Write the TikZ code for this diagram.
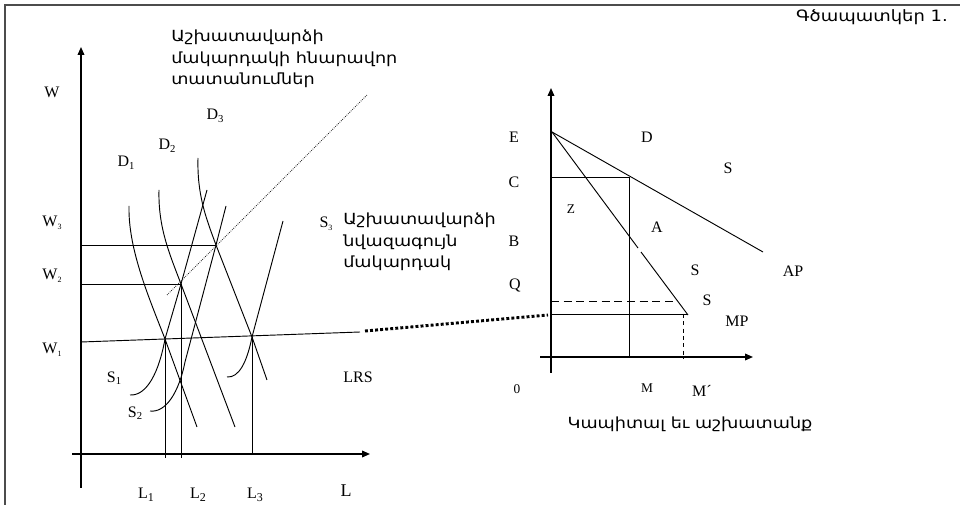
\documentclass[tikz,border=0pt]{standalone}
\usepackage{fontspec}
\setmainfont{Liberation Serif}
\newfontfamily\armw[FakeStretch=1.15]{DejaVu Sans}
\usetikzlibrary{arrows.meta}
\newcommand{\subx}[2]{\raisebox{-0.35ex}{\fontsize{#1}{#1}\selectfont #2}}
\begin{document}
\begin{tikzpicture}[x=0.75pt,y=-0.75pt,
  lbl/.style={inner sep=0pt,font=\fontsize{12}{14}\selectfont},
  smlbl/.style={inner sep=0pt,font=\fontsize{10}{12}\selectfont},
  biglbl/.style={inner sep=0pt,font=\fontsize{13.5}{15}\selectfont},
  armtxt/.style={inner sep=0pt,align=left,font=\armw\fontsize{11.5}{16}\selectfont},
  armtitle/.style={inner sep=0pt,font=\armw\fontsize{11.7}{13}\selectfont},
  axisline/.style={line width=1.1pt,-{Triangle[length=6pt,width=5pt]}},
  ln/.style={line width=0.7pt},
  frameline/.style={line width=1.1pt,draw=black!70},
  fine/.style={line width=0.55pt,dash pattern=on 0.6pt off 0.9pt,draw=black!85},
  bigdots/.style={line width=2.2pt,dash pattern=on 2.2pt off 1.6pt},
  dashh/.style={line width=0.7pt,dash pattern=on 6pt off 3.5pt},
  dashv/.style={line width=0.7pt,dash pattern=on 3pt off 2.5pt}]
\useasboundingbox (0,0) rectangle (960,505);

% frame
\coordinate (F0) at (5,5);
\coordinate (F1) at (960,5);
\coordinate (F2) at (5,505);
\draw[frameline] (F2) -- (F0) -- (F1);

% ---------- left graph ----------
\coordinate (Ybot) at (81,488);
\coordinate (Ytop) at (81,47);
\coordinate (Xl) at (72,454);
\coordinate (Xr) at (370,454);
\draw[axisline] (Ybot) -- (Ytop);
\draw[axisline] (Xl) -- (Xr);

\coordinate (E1) at (165,339);
\coordinate (E2) at (181,284);
\coordinate (E3) at (216,245);
\coordinate (E4) at (252,337);

% wage lines
\coordinate (W3a) at (81,245);
\coordinate (W2a) at (81,284);
\coordinate (W1a) at (81,342);
\coordinate (W1b) at (360,332);
\draw[ln] (W3a) -- (E3);
\draw[ln] (W2a) -- (E2);
\draw[ln] (W1a) -- (W1b);

% verticals
\coordinate (L1b) at (165,458);
\coordinate (L2b) at (181,458);
\coordinate (L3b) at (252,454);
\draw[ln] (E1) -- (L1b);
\draw[ln] (E2) -- (L2b);
\draw[ln] (E4) -- (L3b);

% demand curves
\coordinate (D1t) at (129,206);
\coordinate (D1e) at (197,427);
\coordinate (D2t) at (159,190);
\coordinate (D2e) at (235,427);
\coordinate (D3t) at (198,158);
\coordinate (D3e) at (267,380);
\draw[ln] (D1t) .. controls (128,250) and (150,300) .. (E1) -- (D1e);
\draw[ln] (D2t) .. controls (158,228) and (170,255) .. (E2) -- (D2e);
\draw[ln] (D3t) .. controls (197,195) and (206,218) .. (E3) -- (E4) -- (D3e);

% supply curves
\coordinate (S1b) at (130,395);
\coordinate (S1t) at (207,190);
\coordinate (S2b) at (150,411);
\coordinate (S2m) at (185,362);
\coordinate (S2t) at (226,206);
\coordinate (S3b) at (227,377);
\coordinate (S3t) at (283,221);
\draw[ln] (S1b) .. controls (147,396) and (159,372) .. (E1) -- (E2) -- (S1t);
\draw[ln] (S2b) .. controls (166,413) and (179,392) .. (S2m) -- (E3) -- (S2t);
\draw[ln] (S3b) .. controls (239,378) and (247,362) .. (E4) -- (S3t);

% thin dotted line
\coordinate (Pd1) at (167,295);
\coordinate (Pd2) at (367,95);
\draw[fine] (Pd1) -- (Pd2);

% thick dotted link
\coordinate (Lk1) at (365,331);
\coordinate (Lk2) at (548,315);
\draw[bigdots] (Lk1) -- (Lk2);

% left labels
\node[lbl] (lW) at (52,92) {W};
\node[lbl] (lW3) at (52,223) {W\subx{6}{3}};
\node[lbl] (lW2) at (52,276) {W\subx{6}{2}};
\node[lbl] (lW1) at (52,350) {W\subx{6}{1}};
\node[lbl] (lD1) at (126,163) {D\subx{8}{1}};
\node[lbl] (lD2) at (167,146) {D\subx{8}{2}};
\node[lbl] (lD3) at (215,116) {D\subx{8}{3}};
\node[lbl] (lS1) at (114,378) {S\subx{8}{1}};
\node[lbl] (lS2) at (135,413) {S\subx{8}{2}};
\node[lbl] (lS3) at (326,224) {S\subx{6}{3}};
\node[lbl] (lLRS) at (358,377) {LRS};
\node[lbl] (lL1) at (146,495) {L\subx{9}{1}};
\node[lbl] (lL2) at (198,495) {L\subx{9}{2}};
\node[lbl] (lL3) at (255,495) {L\subx{9}{3}};
\node[biglbl] (lL) at (346,491) {L};

\node[armtxt,anchor=north west] (tTop) at (171,30) {Աշխատավարձի\\մակարդակի հնարավոր\\տատանումներ};
\node[armtxt,anchor=north west] (tMin) at (343,213) {Աշխատավարձի\\նվազագույն\\մակարդակ};
\node[armtitle,anchor=east] (tTitle) at (948,17) {Գծապատկեր 1.};

% ---------- right graph ----------
\coordinate (RYb) at (551,373);
\coordinate (RYt) at (551,88);
\coordinate (RXl) at (540,357);
\coordinate (RXr) at (753,357);
\draw[axisline] (RYb) -- (RYt);
\draw[axisline] (RXl) -- (RXr);

\coordinate (PE) at (552,132);
\coordinate (PAP) at (763,252);
\coordinate (PMP) at (688,315);
\coordinate (Gap1) at (638,248);
\coordinate (Gap2) at (641,252);
\draw[ln] (PE) -- (PAP);
\draw[ln] (PE) -- (Gap1);
\draw[ln] (Gap2) -- (PMP);

\coordinate (PC) at (551,177);
\coordinate (PCx) at (629,177);
\coordinate (PMx) at (629,357);
\draw[ln] (PC) -- (PCx) -- (PMx);

\coordinate (PQa) at (551,301);
\coordinate (PQb) at (677,301);
\draw[dashh] (PQa) -- (PQb);

\coordinate (PLa) at (551,314);
\coordinate (PLb) at (688,314);
\draw[ln] (PLa) -- (PLb);

\coordinate (PMd) at (683,314);
\coordinate (PMd2) at (683,359);
\draw[dashv] (PMd) -- (PMd2);

\node[lbl] (rE) at (514,137) {E};
\node[lbl] (rD) at (647,137) {D};
\node[lbl] (rS1) at (728,168) {S};
\node[lbl] (rC) at (514,182) {C};
\node[smlbl] (rZ) at (571,209) {Z};
\node[lbl] (rA) at (657,227) {A};
\node[lbl] (rB) at (514,241) {B};
\node[lbl] (rS2) at (695,270) {S};
\node[lbl] (rAP) at (793,271) {AP};
\node[lbl] (rQ) at (515,286) {Q};
\node[lbl] (rS3) at (707,300) {S};
\node[lbl] (rMP) at (737,321) {MP};
\node[smlbl] (r0) at (517,389) {0};
\node[smlbl] (rM) at (647,388) {M};
\node[lbl] (rM2) at (702,391) {M´};
\node[armtxt] (tCap) at (690,424) {Կապիտալ եւ աշխատանք};
\end{tikzpicture}
\end{document}
